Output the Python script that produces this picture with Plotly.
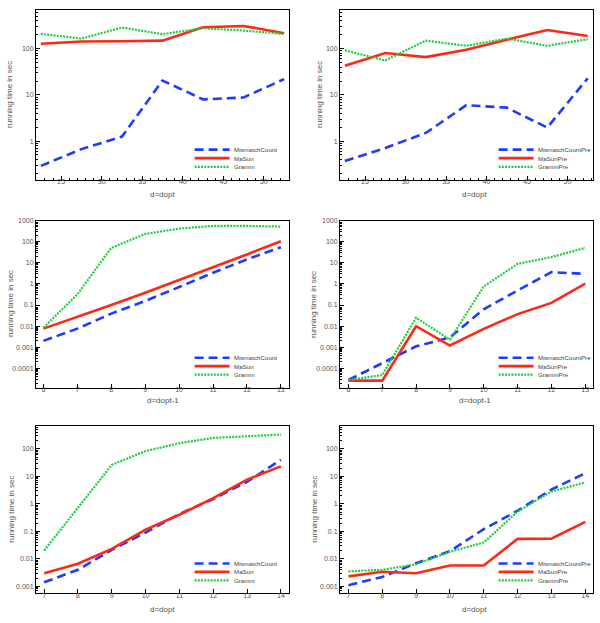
import plotly.graph_objects as go
from plotly.subplots import make_subplots

# ---------------- data ----------------
x_top = [22.5, 27.5, 32.5, 37.5, 42.5, 47.5, 52.5]
x_mid = [6, 7, 8, 9, 10, 11, 12, 13]
x_bot = [7, 8, 9, 10, 11, 12, 13, 14]

# panel 1 (top-left)
p1_mismatch = [0.29, 0.67, 1.25, 20.5, 8.0, 8.8, 22]
p1_masun = [128, 144, 145, 150, 293, 312, 217]
p1_gramm = [210, 166, 288, 207, 278, 247, 210]

# panel 2 (top-right)
p2_mismatch = [0.37, 0.71, 1.5, 6.0, 5.3, 1.96, 23]
p2_masun = [43, 81, 66, 95, 157, 255, 188]
p2_gramm = [92, 56, 150, 116, 166, 116, 161]

# panel 3 (middle-left)
p3_mismatch = [0.002, 0.0076, 0.039, 0.155, 0.71, 3.4, 14.5, 55]
p3_masun = [0.0076, 0.027, 0.1, 0.38, 1.5, 6.3, 25, 105]
p3_gramm = [0.0085, 0.32, 51, 234, 420, 560, 560, 520]

# panel 4 (middle-right)
p4_mismatch = [2.8e-5, 1.8e-4, 0.0011, 0.0029, 0.063, 0.49, 3.6, 3.0]
p4_masun = [2.6e-5, 2.6e-5, 0.0099, 0.0012, 0.0074, 0.037, 0.126, 1.02]
p4_gramm = [2.8e-5, 4.8e-5, 0.025, 0.0023, 0.76, 8.9, 18.7, 51]

# panel 5 (bottom-left)
p5_mismatch = [0.0014, 0.004, 0.021, 0.09, 0.43, 1.5, 6.3, 40]
p5_masun = [0.003, 0.0066, 0.023, 0.115, 0.4, 1.6, 7.6, 23]
p5_gramm = [0.02, 0.7, 26, 83, 160, 250, 285, 330]

# panel 6 (bottom-right)
p6_mismatch = [0.0011, 0.0022, 0.0069, 0.019, 0.12, 0.56, 3.3, 13]
p6_masun = [0.0023, 0.0034, 0.003, 0.0057, 0.0057, 0.053, 0.054, 0.22]
p6_gramm = [0.0035, 0.004, 0.0063, 0.018, 0.039, 0.52, 2.8, 6.0]

names_left = ["MismatchCount", "MaSun", "Gramm"]
names_right = ["MismatchCountPre", "MaSunPre", "GrammPre"]

xtitles = ["d=dopt", "d=dopt", "d=dopt-1", "d=dopt-1", "d=dopt", "d=dopt"]
ytitle = "running time in sec"

ytick_vals = [0.0001, 0.001, 0.01, 0.1, 1, 10, 100, 1000]
ytick_text = ["0.0001", "0.001", "0.01", "0.1", "1", "10", "100", "1000"]
xtick_top = [25, 30, 35, 40, 45, 50]

# ---------------- styling ----------------
W, H = 600, 623
BLUE = "rgb(30,60,255)"
RED = "rgb(255,40,20)"
GREEN = "rgb(30,205,60)"
styles = [
    dict(color=BLUE, width=2.6, dash="9px,5px"),
    dict(color=RED, width=2.6, dash="solid"),
    dict(color=GREEN, width=2.2, dash="2px,1.2px"),
]
FONT = "Arial, Liberation Sans, Helvetica, sans-serif"
TICKCOL = "#555555"

panels = [
    (x_top, [p1_mismatch, p1_masun, p1_gramm], names_left),
    (x_top, [p2_mismatch, p2_masun, p2_gramm], names_right),
    (x_mid, [p3_mismatch, p3_masun, p3_gramm], names_left),
    (x_mid, [p4_mismatch, p4_masun, p4_gramm], names_right),
    (x_bot, [p5_mismatch, p5_masun, p5_gramm], names_left),
    (x_bot, [p6_mismatch, p6_masun, p6_gramm], names_right),
]

# pixel boxes (left, right, top, bottom)
cols_px = [(36, 289), (340, 593)]
rows_px = [(6, 177), (218, 386), (425, 593)]
xranges = [[21.9, 53.1], [21.9, 53.15], [5.78, 13.24], [5.75, 13.23], [6.76, 14.24], [6.75, 14.23]]
yranges = [[-0.84, 2.84], [-0.84, 2.84], [-4.91, 3.0], [-4.91, 3.0], [-3.25, 2.82], [-3.25, 2.82]]

minor_vals = [m * 10 ** e for e in range(-6, 4) for m in range(2, 10)]

fig = make_subplots(rows=3, cols=2)

annotations = []
shapes = []
for i, (xs, series, names) in enumerate(panels):
    r, c = i // 2, i % 2
    for s, (ys, nm) in enumerate(zip(series, names)):
        fig.add_trace(go.Scatter(x=xs, y=ys, mode="lines", name=nm, showlegend=False,
                                 line=styles[s]), row=r + 1, col=c + 1)
    sfx = "" if i == 0 else str(i + 1)
    l, rr = cols_px[c]
    t, b = rows_px[r]
    xd = [l / W, rr / W]
    yd = [1 - b / H, 1 - t / H]
    if r == 0:
        xt = dict(tickvals=xtick_top, minor=dict(ticks="inside", ticklen=2, dtick=1, tick0=0,
                                                   tickcolor="black"))
    else:
        xt = dict(tickvals=xs)
    fig.layout["xaxis" + sfx].update(
        domain=xd, range=xranges[i], showline=True, linecolor="black", linewidth=1,
        mirror=True, ticks="inside", ticklen=4, tickcolor="black", showgrid=False,
        zeroline=False, ticklabelstandoff=-5,
        tickfont=dict(family=FONT, size=7, color=TICKCOL), **xt)
    fig.layout["yaxis" + sfx].update(
        domain=yd, type="log", range=yranges[i], showline=True, linecolor="black",
        linewidth=1, mirror=True, ticks="inside", ticklen=4, tickcolor="black",
        showgrid=False, zeroline=False, tickvals=ytick_vals, ticktext=ytick_text,
        tickfont=dict(family=FONT, size=7, color=TICKCOL),
        minor=dict(ticks="inside", ticklen=2, tickcolor="black", tickvals=minor_vals))
    # axis titles
    ytx = [10, 320, 10, 313, 12, 315][i]
    annotations.append(dict(text=ytitle, xref="paper", yref="paper", x=ytx / W,
                            y=1 - ((t + b) / 2) / H, textangle=-90, showarrow=False,
                            xanchor="center", yanchor="middle",
                            font=dict(family=FONT, size=8, color=TICKCOL)))
    xty = [192, 192, 399, 399, 609, 609][i]
    annotations.append(dict(text=xtitles[i], xref="paper", yref="paper",
                            x=((l + rr) / 2 + (0 if c == 0 else 8)) / W, y=1 - xty / H,
                            showarrow=False, xanchor="center", yanchor="middle",
                            font=dict(family=FONT, size=8, color=TICKCOL)))
    # legend (drawn inside lower right of each panel)
    xref = "x" + sfx + " domain"
    yref = "y" + sfx + " domain"
    for s, nm in enumerate(names):
        yy = [0.178, 0.128, 0.077][s]
        shapes.append(dict(type="line", xref=xref, yref=yref, x0=0.627, x1=0.765,
                           y0=yy, y1=yy, line=styles[s]))
        annotations.append(dict(text=nm, xref=xref, yref=yref, x=0.775, y=yy,
                                showarrow=False, xanchor="left", yanchor="middle",
                                font=dict(family=FONT, size=6.2, color="#444444")))

fig.update_layout(width=W, height=H, margin=dict(l=0, r=0, t=0, b=0),
                  plot_bgcolor="rgba(0,0,0,0)", paper_bgcolor="white",
                  annotations=annotations, shapes=shapes, showlegend=False)
fig.write_html("out.html", config={"displayModeBar": False},
               post_script="document.body.style.margin='0';"
                           "document.body.style.overflow='hidden';"
                           "document.documentElement.style.overflow='hidden';")
